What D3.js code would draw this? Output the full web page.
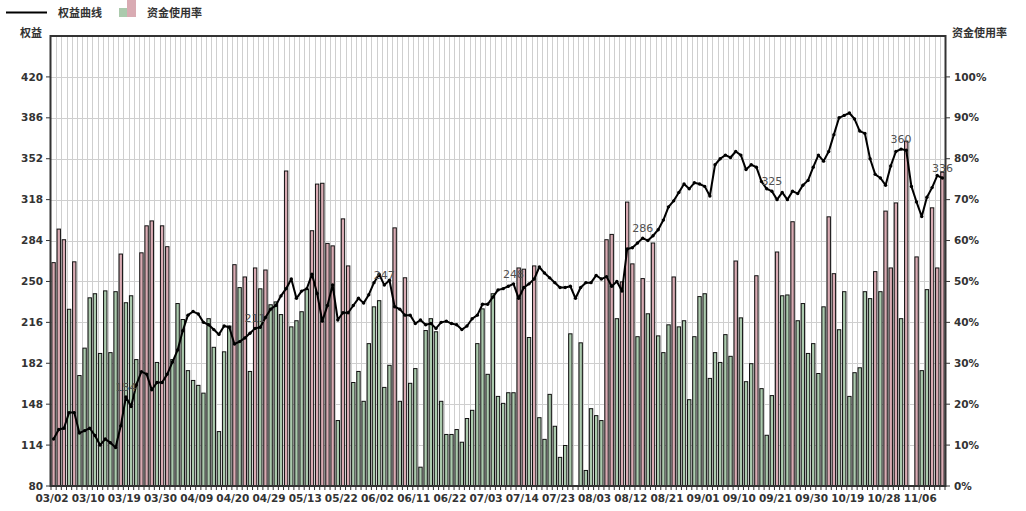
<!DOCTYPE html>
<html><head><meta charset="utf-8">
<script src="https://cdn.jsdelivr.net/npm/d3@7"></script>
<style>
html,body{margin:0;padding:0;background:#fff;}
svg{display:block;}
text{font-family:"DejaVu Sans",Verdana,sans-serif;}
.cjk{font-family:"Noto Sans CJK SC","DejaVu Sans",sans-serif;}
</style></head>
<body>
<svg id="chart" width="1026" height="511"></svg>
<script>
// ---- data ----
const xTickLabels = ["03/02","03/10","03/19","03/30","04/09","04/20","04/29","05/13","05/22","06/02","06/11","06/22","07/03","07/14","07/23","08/03","08/12","08/21","09/01","09/10","09/21","09/30","10/19","10/28","11/06"];
const equity = [119,127,128,141,141,124,126,128,122,114,119,116,112,130,154,146,164,175,173,160,166,166,173,183,193,209,222,225,223,216,214,210,206,213,212,198,200,203,207,211,212,220,227,230,
238,244,252,236,242,244,256,240,217,230,247,218,224,224,230,236,232,239,249,256,247,251,229,227,222,222,215,218,214,215,211,216,217,215,214,210,213,219,222,231,231,237,243,
244,246,248,236,245,248,252,262,257,253,249,245,245,246,236,245,249,249,255,252,254,246,250,242,277,278,282,286,284,288,293,301,312,317,324,331,327,332,331,329,321,347,352,355,
353,358,355,343,347,345,333,327,325,318,324,318,325,323,330,334,345,355,350,358,372,386,388,390,385,375,373,352,339,336,330,346,358,360,359,329,316,304,320,328,338,336];
const usage = [54.6,62.8,60.2,43.2,54.8,27.0,33.7,46.0,47.0,32.4,47.7,32.6,47.5,56.7,44.8,46.5,30.9,57.0,63.6,64.8,30.2,63.6,58.5,30.9,44.6,40.7,28.2,25.8,24.6,22.7,40.9,33.9,13.3,32.8,39.1,54.1,48.5,51.1,28.0,53.3,48.2,52.8,44.3,45.0,
41.9,77.0,38.9,40.4,42.6,48.1,62.4,73.8,74.0,59.3,58.7,16.0,65.3,53.8,25.3,28.0,20.7,34.8,43.8,45.3,24.1,29.5,63.1,20.7,50.9,25.1,28.7,4.6,38.0,40.9,37.7,20.7,12.6,12.6,13.8,10.7,16.5,18.5,34.8,43.3,27.3,47.0,21.9,
20.2,22.8,22.8,53.3,53.0,36.3,53.8,16.7,11.4,22.4,14.6,7.0,9.9,37.2,0,35.0,3.8,18.9,17.2,16.0,60.2,61.5,40.9,49.9,69.4,54.3,36.5,50.7,42.1,59.4,36.7,32.6,39.4,51.1,38.9,40.4,21.1,36.5,46.3,47.0,26.3,32.6,30.2,37.0,
31.7,55.0,41.1,25.5,29.9,51.4,23.8,12.4,22.1,57.2,46.5,46.7,64.6,40.4,44.6,32.4,34.8,27.5,43.8,65.8,51.9,38.2,47.5,21.9,27.7,28.9,47.5,45.8,52.4,47.5,67.2,53.3,69.2,40.9,84.3,0,56.0,28.2,48.0,68.0,53.3,76.7];
// bars drawn pink (all others green)
const pinkBars = [0,1,2,4,13,17,18,19,21,22,35,37,39,41,45,50,51,52,53,54,56,57,66,68,90,91,93,107,108,110,111,112,114,116,120,132,136,140,143,150,151,159,161,162,163,165,167,170,171,172];
const leftTicks = [80,114,148,182,216,250,284,318,352,386,420];
const rightTicks = [0,10,20,30,40,50,60,70,80,90,100];
const labelIdx = [14,39,64,89,114,139,164,172];

// ---- layout ----
const svg = d3.select("#chart");
const L = 51, R = 945, T = 36, B = 486;
const n = equity.length;
const x = d3.scaleBand().domain(d3.range(n)).range([L, R]).padding(0);
const bw = x.bandwidth();
const yL = d3.scaleLinear().domain([80, 454]).range([B, T]);
const yR = d3.scaleLinear().domain([0, 110]).range([B, T]);
const PINK = "#d9abb3", GREEN = "#abcaad", GRID = "#cfcfcf", AX = "#333";

// grid
const g = svg.append("g");
g.selectAll("line.vg").data(d3.range(1, n)).join("line")
  .attr("x1", d => Math.round(x(d)) + 0.5).attr("x2", d => Math.round(x(d)) + 0.5)
  .attr("y1", T).attr("y2", B).attr("stroke", GRID).attr("stroke-width", 1);
g.selectAll("line.hg").data(leftTicks.slice(1)).join("line")
  .attr("x1", L).attr("x2", R)
  .attr("y1", d => Math.round(yL(d)) + 0.5).attr("y2", d => Math.round(yL(d)) + 0.5)
  .attr("stroke", GRID).attr("stroke-width", 1);

// bars
svg.append("g").selectAll("rect").data(usage.map((v, i) => ({v, i, pink: pinkBars.includes(i)})).filter(d => d.v > 0)).join("rect")
  .attr("x", d => x(d.i) + 0.9).attr("width", bw - 1.8)
  .attr("y", d => yR(d.v)).attr("height", d => B - yR(d.v))
  .attr("fill", d => d.pink ? PINK : GREEN)
  .attr("stroke", "#111").attr("stroke-width", 1);

// equity line
const cx = i => x(i) + bw / 2;
svg.append("path").datum(equity)
  .attr("d", d3.line().x((d, i) => cx(i)).y(d => yL(d)))
  .attr("fill", "none").attr("stroke", "#000").attr("stroke-width", 2).attr("stroke-linejoin", "round");
svg.append("g").selectAll("circle").data(equity).join("circle")
  .attr("cx", (d, i) => cx(i)).attr("cy", d => yL(d)).attr("r", 1.7).attr("fill", "#000");

// value labels
svg.append("g").selectAll("text").data(labelIdx).join("text")
  .attr("x", i => cx(i)).attr("y", i => yL(equity[i]) - 6)
  .attr("text-anchor", "middle").attr("font-size", "11px").attr("fill", "#505050")
  .text(i => equity[i]);

// frame
svg.append("rect").attr("x", L - 0.5).attr("y", T).attr("width", R - L + 1).attr("height", B - T)
  .attr("fill", "none").attr("stroke", AX).attr("stroke-width", 2);

// left axis
const la = svg.append("g");
la.selectAll("line").data(leftTicks).join("line")
  .attr("x1", L - 5).attr("x2", L).attr("y1", d => yL(d)).attr("y2", d => yL(d)).attr("stroke", AX);
la.selectAll("text").data(leftTicks).join("text")
  .attr("x", 43).attr("y", d => yL(d)).attr("dy", "0.35em").attr("text-anchor", "end")
  .attr("font-size", "10.5px").attr("font-weight", "bold").attr("fill", "#333").text(d => d);

// right axis
const ra = svg.append("g");
ra.selectAll("line").data(rightTicks).join("line")
  .attr("x1", R).attr("x2", R + 5).attr("y1", d => yR(d)).attr("y2", d => yR(d)).attr("stroke", AX);
ra.selectAll("text").data(rightTicks).join("text")
  .attr("x", 954).attr("y", d => yR(d)).attr("dy", "0.35em").attr("text-anchor", "start")
  .attr("font-size", "10.5px").attr("font-weight", "bold").attr("fill", "#333").text(d => d + "%");

// bottom axis
const ba = svg.append("g");
ba.selectAll("line").data(d3.range(n + 1)).join("line")
  .attr("x1", d => (d < n ? x(d) : R)).attr("x2", d => (d < n ? x(d) : R))
  .attr("y1", B).attr("y2", B + 4).attr("stroke", AX);
ba.selectAll("text").data(xTickLabels).join("text")
  .attr("x", (d, k) => x(k * 7) + 1).attr("y", 502).attr("text-anchor", "middle")
  .attr("font-size", "10.5px").attr("font-weight", "bold").attr("fill", "#333").text(d => d);

// titles
svg.append("text").attr("class", "cjk").attr("x", 20).attr("y", 37)
  .attr("font-size", "11px").attr("font-weight", "bold").attr("fill", "#333").text("权益");
svg.append("text").attr("class", "cjk").attr("x", 952).attr("y", 37)
  .attr("font-size", "11px").attr("font-weight", "bold").attr("fill", "#333").text("资金使用率");

// legend
const lg = svg.append("g");
lg.append("line").attr("x1", 6).attr("x2", 47).attr("y1", 12.5).attr("y2", 12.5).attr("stroke", "#000").attr("stroke-width", 2);
lg.append("text").attr("class", "cjk").attr("x", 58).attr("y", 17).attr("font-size", "11px").attr("font-weight", "bold").attr("fill", "#333").text("权益曲线");
lg.append("rect").attr("x", 119).attr("y", 8).attr("width", 8).attr("height", 9).attr("fill", GREEN);
lg.append("rect").attr("x", 127).attr("y", 0).attr("width", 9).attr("height", 17).attr("fill", PINK);
lg.append("text").attr("class", "cjk").attr("x", 147).attr("y", 17).attr("font-size", "11px").attr("font-weight", "bold").attr("fill", "#333").text("资金使用率");
</script>
</body></html>
